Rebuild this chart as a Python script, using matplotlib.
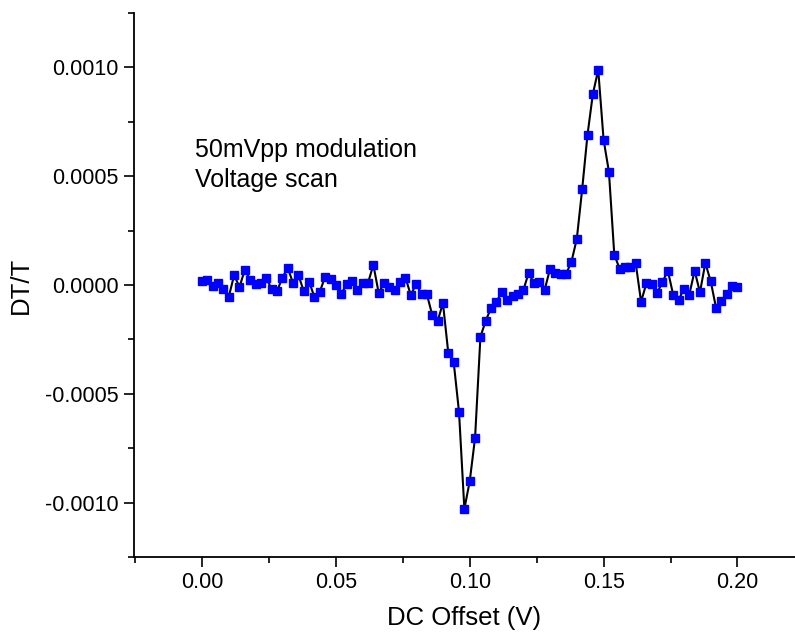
import matplotlib
matplotlib.use("Agg")
import matplotlib.pyplot as plt
from matplotlib.ticker import MultipleLocator, FormatStrFormatter
import numpy as np

plt.rcParams['font.family'] = ['Liberation Sans', 'DejaVu Sans']

# DC offset (V), step 0.002 V
dc_offset = [round(0.002 * i, 3) for i in range(101)]

# DT/T values (x 1e-5)
dt_t_e5 = [
    1.8, 2.2, -0.6, 0.9, -1.7, -5.4, 4.5, -0.9, 7.0, 2.3,
    0.3, 0.8, 3.4, -2.0, -2.8, 3.2, 8.0, 0.9, 4.6, -2.8,
    1.5, -5.5, -3.1, 3.8, 2.9, -0.1, -4.0, 0.3, 1.8, -2.3,
    0.8, 0.9, 9.3, -3.7, 0.8, -0.8, -2.2, 1.5, 3.4, -4.7,
    0.6, -4.3, -4.3, -13.8, -16.6, -8.3, -31.3, -35.3, -58.3, -102.9,
    -90.2, -70.2, -23.8, -16.4, -10.4, -7.7, -3.1, -6.8, -5.1, -4.0,
    -2.5, 5.5, 0.9, 1.5, -2.2, 7.4, 5.7, 5.1, 5.1, 10.7,
    21.2, 44.0, 69.1, 87.8, 98.9, 66.8, 52.0, 13.9, 7.5, 8.3,
    8.3, 10.1, -7.7, 0.8, 0.6, -3.7, 1.4, 6.6, -4.5, -7.0,
    -1.7, -4.6, 6.6, -3.4, 10.1, 1.8, -10.4, -7.4, -4.0, -0.3,
    -0.9,
]
dt_t = [v * 1e-5 for v in dt_t_e5]

x_label = "DC Offset (V)"
y_label = "DT/T"
note = "50mVpp modulation\nVoltage scan"

W, H = 795, 636
fig = plt.figure(figsize=(W / 100, H / 100), dpi=100)
left, right, top, bottom = 134, 795, 13, 557
ax = fig.add_axes([left / W, 1 - bottom / H, (right - left) / W, (bottom - top) / H])

ax.plot(dc_offset, dt_t, color='black', lw=1.5, marker='s', markersize=5.5,
        markerfacecolor='#0000ff', markeredgecolor='#0000ff', zorder=3)

ax.set_xlim(-0.0254, 0.2215)
ax.set_ylim(-0.00125, 0.00125)

ax.spines['top'].set_visible(False)
ax.spines['right'].set_visible(False)
for s in ['left', 'bottom']:
    ax.spines[s].set_linewidth(1.3)

ax.xaxis.set_major_locator(MultipleLocator(0.05))
ax.xaxis.set_minor_locator(MultipleLocator(0.025))
ax.yaxis.set_major_locator(MultipleLocator(0.0005))
ax.yaxis.set_minor_locator(MultipleLocator(0.00025))
ax.xaxis.set_major_formatter(FormatStrFormatter('%.2f'))
ax.yaxis.set_major_formatter(FormatStrFormatter('%.4f'))

ax.tick_params(axis='both', which='major', direction='out', length=7, width=1.2,
               labelsize=15.5, pad=4)
ax.tick_params(axis='both', which='minor', direction='out', length=4, width=1.2)

ax.set_xlabel(x_label, fontsize=18.5, labelpad=9)
ax.set_ylabel(y_label, fontsize=18.5, labelpad=9)

fig.text(195 / W, 1 - 165 / H, note, fontsize=18, ha='left', va='center',
         linespacing=1.35)

fig.savefig("out.png", dpi=100)
